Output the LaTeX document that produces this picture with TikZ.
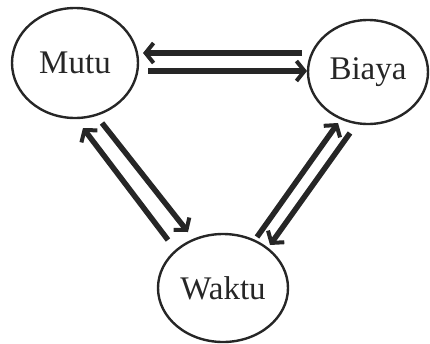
\documentclass[tikz,border=0pt]{standalone}
\usepackage{fontspec}
\setmainfont{Liberation Serif}
\usetikzlibrary{arrows.meta,shapes.geometric}
\tikzset{
  circ/.style={draw=black!85, ellipse, line width=2.4pt, inner sep=0pt,
    font=\fontsize{33}{38}\selectfont, text=black!85},
  arr/.style={draw=black!85, line width=5.5pt,
    -{Straight Barb[length=8pt,width=20pt,line width=4pt]}}
}
\begin{document}
\begin{tikzpicture}[x=1pt,y=-1pt]
\useasboundingbox (0,0) rectangle (430,343);
\node[circ, minimum width=126pt, minimum height=110pt] (m) at (75,63) {Mutu};
\node[circ, minimum width=120pt, minimum height=104pt] (b) at (368,72) {Biaya};
\node[circ, minimum width=130pt, minimum height=108pt] (w) at (223,288) {Waktu};
% top pair
\draw[arr] ([shift={(-66,-19)}]b.center) -- ([shift={(68,-10)}]m.center);
\draw[arr] ([shift={(73,8)}]m.center) -- ([shift={(-61,-1)}]b.center);
% left pair
\draw[arr] ([shift={(-55,-48)}]w.center) -- ([shift={(8,65)}]m.center);
\draw[arr] ([shift={(27,60)}]m.center) -- ([shift={(-35,-56)}]w.center);
% right pair
\draw[arr] ([shift={(34,-51)}]w.center) -- ([shift={(-30,51)}]b.center);
\draw[arr] ([shift={(-18,61)}]b.center) -- ([shift={(47,-43)}]w.center);
\end{tikzpicture}
\end{document}
